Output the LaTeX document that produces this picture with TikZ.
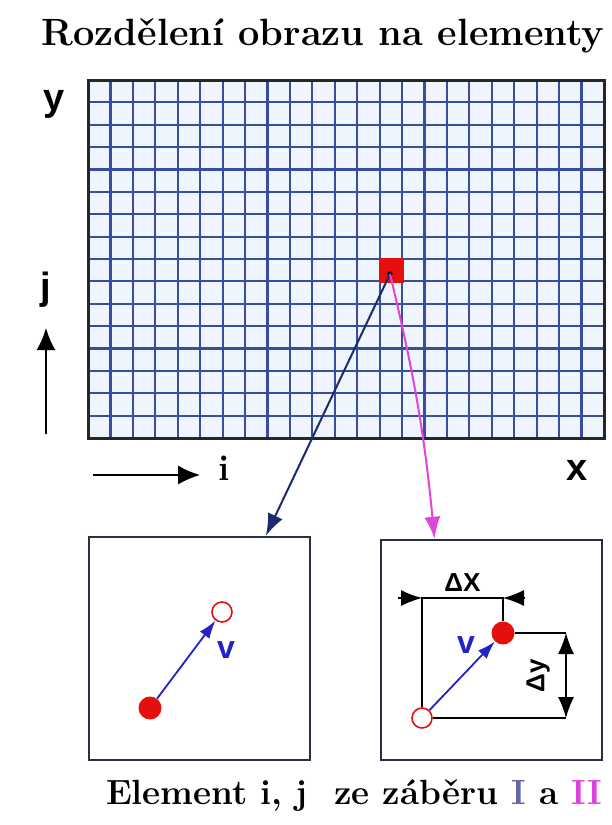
\documentclass[tikz,border=0pt]{standalone}
\usepackage{fontspec}
\newfontfamily\labfont{Liberation Sans}
\usetikzlibrary{arrows.meta,positioning,calc}
\definecolor{cellfill}{HTML}{EEF5FC}
\definecolor{gridline}{HTML}{3A4C9C}
\definecolor{cellred}{HTML}{E5100E}
\definecolor{navyline}{HTML}{1C2A6E}
\definecolor{pinkline}{HTML}{E045D8}
\definecolor{boxline}{HTML}{2B2D48}
\definecolor{vecblue}{HTML}{2222C8}
\definecolor{romanI}{HTML}{6464A8}
\definecolor{romanII}{HTML}{E040E0}

\begin{document}
\begin{tikzpicture}[x=1pt, y=-1pt,
  lab/.style={font=\labfont\bfseries\fontsize{38}{38}\selectfont, inner sep=0pt},
  vlab/.style={font=\labfont\bfseries\fontsize{32}{32}\selectfont, inner sep=0pt, text=vecblue},
  small lab/.style={font=\labfont\bfseries\fontsize{26}{26}\selectfont, inner sep=0pt},
  elbox/.style={draw=boxline, line width=2.4pt, minimum width=221pt, inner sep=0pt},
  full/.style={circle, fill=cellred, minimum size=23pt, inner sep=0pt},
  hollow/.style={circle, draw=cellred, line width=1.6pt, fill=white, minimum size=20pt, inner sep=0pt},
  vec/.style={draw=vecblue, line width=1.8pt, -{Latex[length=18pt,width=12pt]}},
  dim/.style={draw=black, line width=1.1pt},
  bigtip/.style={-{Latex[length=22pt,width=19pt]}},
  dimtip/.style={-{Latex[length=21pt,width=16pt]}}
]
\useasboundingbox[fill=white] (0,0) rectangle (612,825);

%--- Title ---
\node[font=\bfseries\fontsize{38}{38}\selectfont] (title) at (323,36) {Rozdělení obrazu na elementy};

%--- Grid of elements (23 x 16) ---
\fill[cellfill] (88,80) rectangle (604,438);
\foreach \c in {1,...,22}
  \draw[gridline, line width=2.2pt] ({88+\c*516/23},80) -- ++(0,358);
\foreach \r in {1,...,15}
  \draw[gridline, line width=2.2pt] (88,{80+\r*358/16}) -- ++(516,0);
\node[fill=cellred, minimum width=25pt, minimum height=25pt, inner sep=0pt] (cell) at (391,270) {};
\draw[black!85, line width=3pt] (88,80) rectangle (604,438);
\coordinate (pick) at (390,274);
\fill[black] (pick) circle (2.6pt);

%--- Axes ---
\node[lab] (ylab) at (54,104) {y};
\node[lab] (jlab) at (46,290) {j};
\coordinate (jtail) at (46,434);
\coordinate (jtip) at (46,328);
\draw[line width=2pt, bigtip] (jtail) -- (jtip);
\node[font=\bfseries\fontsize{36}{36}\selectfont, inner sep=0pt] (ilab) at (224,468) {i};
\coordinate (itail) at (93,475);
\coordinate (itip) at ([xshift=-18pt]ilab.west);
\draw[line width=2pt, bigtip] (itail) -- (itail -| itip);
\node[lab] (xlab) at (577,470) {x};

%--- Element boxes ---
\node[elbox, minimum height=223pt] (boxI) at (199.5,648.5) {};
\node[elbox, minimum height=220pt] (boxII) at (491.5,650) {};

%--- Links from the element to the boxes ---
\draw[navyline, line width=2pt, -{Latex[length=22pt,width=16pt]}] (pick) -- ($(boxI.north west)!0.797!(boxI.north east)$);
\draw[pinkline, line width=2pt, -{Latex[length=22pt,width=16pt]}] (pick) to[bend left=4] ($(boxII.north west)!0.245!(boxII.north east)$);

%--- Box I ---
\node[full] (fromI) at (150,708) {};
\node[hollow] (toI) at (222,612) {};
\draw[vec] (fromI) -- (toI);
\node[vlab] (vI) at (226,650) {v};

%--- Box II ---
\node[hollow] (fromII) at (422,718) {};
\node[full] (toII) at (503,633) {};
\draw[vec] (fromII) -- (toII);
\node[vlab] (vII) at (466,645) {v};

% dx
\coordinate (dxrow) at (0,598);
\coordinate (dxa) at (fromII.north |- dxrow);
\coordinate (dxb) at (toII.north |- dxrow);
\draw[dim] (fromII.north) -- (dxa) -- (dxb) -- (toII.north);
\draw[dim, dimtip] ([xshift=-24pt]dxa) -- (dxa);
\draw[dim, dimtip] ([xshift=22pt]dxb) -- (dxb);
\node[small lab, above=6pt] (dxlab) at ($(dxa)!0.5!(dxb)$) {ΔX};

% dy
\coordinate (dycol) at (566,0);
\coordinate (dya) at (dycol |- toII.center);
\coordinate (dyb) at (dycol |- fromII.center);
\draw[dim] (toII.east) -- (dya);
\draw[dim] (fromII.east) -- (dyb);
\draw[dim, {Latex[length=21pt,width=16pt]}-{Latex[length=21pt,width=16pt]}] (dya) -- (dyb);
\node[small lab, rotate=90] (dylab) at ($(dya)!0.5!(dyb)+(-28,0)$) {Δy};

%--- Caption ---
\node[font=\bfseries\fontsize{35}{35}\selectfont] (caption) at (354,796) {Element i, j\ \ ze záběru {\color{romanI}I} a {\color{romanII}II}};
\end{tikzpicture}
\end{document}
